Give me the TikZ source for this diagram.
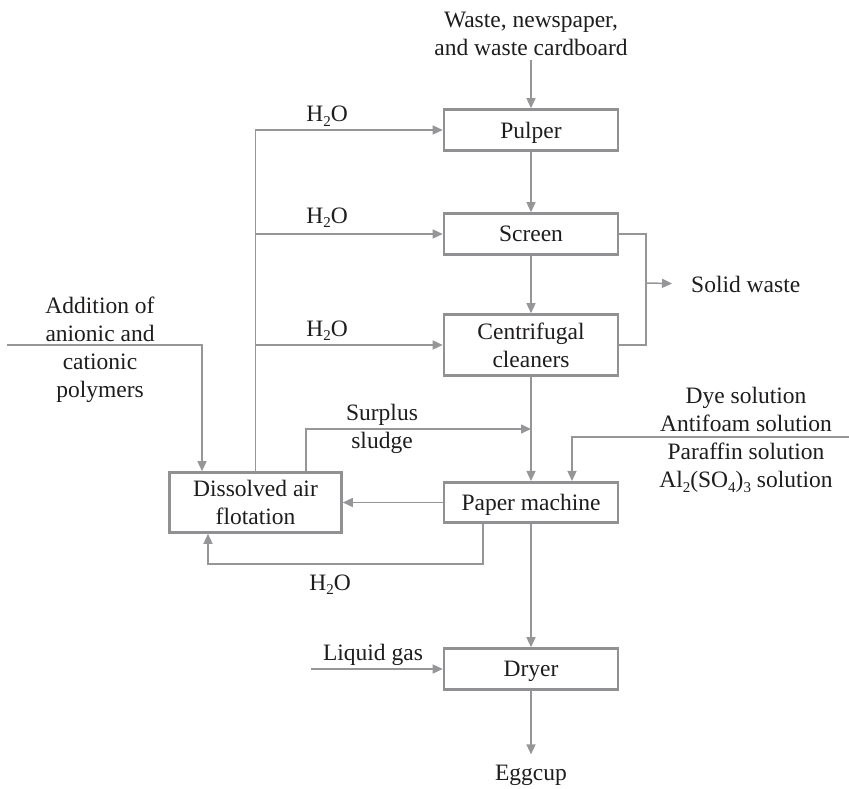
\documentclass[tikz,border=0pt]{standalone}
\usepackage{fontspec}
\setmainfont{Liberation Serif}
\usetikzlibrary{arrows.meta}
\definecolor{flowline}{RGB}{150,150,152}
\definecolor{boxline}{RGB}{145,145,147}
\definecolor{ink}{RGB}{30,28,29}
% lowered small index, as in chemical formulae
\newcommand\chemidx[1]{\raisebox{-4.5pt}{\fontsize{15}{15}\selectfont #1}}
\begin{document}
\begin{tikzpicture}[x=1pt,y=-1pt,
  every node/.style={text=ink, font=\fontsize{23.5}{28}\selectfont},
  unit/.style={draw=boxline, line width=2.6pt, minimum width=174pt, align=center, inner sep=0pt},
  flow/.style={draw=flowline, line width=1.5pt, -{Triangle[length=10pt,width=9pt]}},
  pipe/.style={draw=flowline, line width=1.5pt},
  lbl/.style={inner sep=0pt, align=center}]
\useasboundingbox (0,0) rectangle (849,789);

% process units
\node[unit, minimum height=41pt, text depth=0pt] (pulper) at (531,130) {Pulper};
\node[unit, minimum height=41pt] (screen) at (531,234) {Screen};
\node[unit, minimum height=61pt] (cc) at (531,345) {Centrifugal\\cleaners};
\node[unit, minimum height=40.5pt, text depth=0pt] (pm) at (531,502.5) {Paper machine};
\node[unit, minimum height=41pt, text depth=0pt] (dryer) at (531,669) {Dryer};
\node[unit, minimum width=172pt, minimum height=60pt] (daf) at (255.5,502.5) {Dissolved air\\flotation};

% stream labels
\node[lbl] (src) at (531,34) {Waste, newspaper,\\and waste cardboard};
\node[lbl, anchor=base] (w1) at (327,122) {H\chemidx{2}O};
\node[lbl, anchor=base] (w2) at (327,223) {H\chemidx{2}O};
\node[lbl, anchor=base] (w3) at (327,336) {H\chemidx{2}O};
\node[lbl, anchor=base] (w4) at (330,590) {H\chemidx{2}O};
\node[lbl] (poly) at (100,350) {Addition of\\anionic and\\cationic\\polymers};
\node[lbl] (chem) at (746,440) {Dye solution\\Antifoam solution\\Paraffin solution\\Al\chemidx{2}(SO\chemidx{4})\chemidx{3} solution};
\node[lbl] (sur) at (382,429) {Surplus\\sludge};
\node[lbl, anchor=base west] (sw) at (691,292) {Solid waste};
\node[lbl, anchor=base] (gas) at (373,660) {Liquid gas};
\node[lbl, anchor=base] (egg) at (531,780) {Eggcup};

% free ends and junctions
\coordinate (polyin) at (7,345);
\coordinate (chemin) at (849,437);
\coordinate (gasin) at (311,669);
\coordinate (swjoin) at (646,283);
\coordinate (sludgejoin) at (531,429);

% main line
\draw[flow, shorten <=4pt] (src.south) -- (pulper.north);
\draw[flow] (pulper.south) -- (screen.north);
\draw[flow] (screen.south) -- (cc.north);
\draw[flow] (cc.south) -- (pm.north);
\draw[flow] (pm.south) -- (dryer.north);
\draw[flow, shorten >=10pt] (dryer.south) -- (egg.north);

% recycled water
\draw[flow] (daf.north) |- (pulper.west);
\draw[flow] (daf.north |- screen.west) -- (screen.west);
\draw[flow] (daf.north |- cc.west) -- (cc.west);

% flotation loop
\draw[flow] (polyin) -| ([xshift=-53.5pt]daf.north);
\draw[flow] ([xshift=50.5pt]daf.north) |- (sludgejoin);
\draw[flow] (pm.west) -- (daf.east);
\draw[flow] ([xshift=-48pt]pm.south) -- ++(0,40) -| ([xshift=-47.5pt]daf.south);

% rejects
\draw[pipe] (screen.east) -| (swjoin) |- (cc.east);
\draw[flow, shorten >=19pt] (swjoin) -- (sw.west);

% additives and fuel
\draw[flow] (chemin) -| ([xshift=41pt]pm.north);
\draw[flow] (gasin) -- (dryer.west);
\end{tikzpicture}
\end{document}
